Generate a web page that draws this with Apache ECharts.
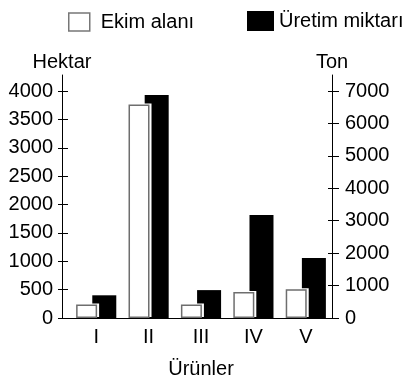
<!DOCTYPE html>
<html>
<head>
<meta charset="utf-8">
<style>
  html, body { margin: 0; padding: 0; background: #fff; }
  #chart { width: 409px; height: 385px; }
</style>
<script src="https://cdn.jsdelivr.net/npm/echarts@6/dist/echarts.min.js"></script>
</head>
<body>
<div id="chart"></div>
<script>
// Ürün grupları ve değerleri
const categories = ['I', 'II', 'III', 'IV', 'V'];
const ekimAlani = [240, 3760, 240, 460, 505];        // hektar
const uretimMiktari = [700, 6880, 860, 3180, 1850];  // ton
const hektarTicks = { min: 0, max: 4000, interval: 500 };
const tonTicks = { min: 0, max: 7000, interval: 1000 };

const FONT = 'Liberation Sans';
const FS = 20;
const txt = { fontFamily: FONT, fontSize: FS, color: '#000' };
const line = { color: '#000', width: 1 };
const plain = (v) => String(v);

const chart = echarts.init(document.getElementById('chart'), null, { renderer: 'canvas' });

chart.setOption({
  animation: false,
  backgroundColor: '#fff',
  textStyle: { fontFamily: FONT },
  legend: [
    {
      left: 68, top: 12, padding: 0,
      itemWidth: 21, itemHeight: 18,
      selectedMode: false,
      textStyle: Object.assign({}, txt, { padding: [0, 0, 0, 6] }),
      data: [{
        name: 'Ekim alanı', icon: 'rect',
        itemStyle: { color: '#fff', borderColor: '#777', borderWidth: 1.5, shadowColor: 'transparent' }
      }]
    },
    {
      left: 247, top: 11, padding: 0,
      itemWidth: 27, itemHeight: 20,
      selectedMode: false,
      textStyle: txt,
      data: [{ name: 'Üretim miktarı', icon: 'rect', itemStyle: { color: '#000' } }]
    }
  ],
  grid: [
    { left: 70, right: 77, top: 91, bottom: 67 },   // bars
    { left: 62, right: 77, top: 75, bottom: 67 }    // axis frame
  ],
  xAxis: [
    {
      type: 'category', gridIndex: 0, data: categories,
      axisLine: { show: false }, axisTick: { show: false },
      axisLabel: Object.assign({}, txt, { margin: 9 }),
      name: 'Ürünler', nameLocation: 'middle', nameGap: 41,
      nameTextStyle: txt
    },
    {
      type: 'value', gridIndex: 1, min: 0, max: 1,
      axisLine: { show: true, lineStyle: line },
      axisTick: { show: false }, axisLabel: { show: false }, splitLine: { show: false }
    }
  ],
  yAxis: [
    {
      type: 'value', gridIndex: 0, position: 'left', offset: 8,
      min: hektarTicks.min, max: hektarTicks.max, interval: hektarTicks.interval,
      axisLine: { show: false },
      axisTick: { show: true, length: 4, lineStyle: line },
      axisLabel: Object.assign({}, txt, { margin: 9, formatter: plain }),
      splitLine: { show: false },
      name: 'Hektar', nameLocation: 'end', nameGap: 29,
      nameTextStyle: Object.assign({}, txt, { align: 'center', verticalAlign: 'middle' })
    },
    {
      type: 'value', gridIndex: 0, position: 'right',
      min: tonTicks.min, max: tonTicks.max, interval: tonTicks.interval,
      axisLine: { show: false },
      axisTick: { show: true, length: 7, lineStyle: line },
      axisLabel: Object.assign({}, txt, { margin: 13, formatter: plain }),
      splitLine: { show: false },
      name: 'Ton', nameLocation: 'end', nameGap: 29,
      nameTextStyle: Object.assign({}, txt, { align: 'center', verticalAlign: 'middle' })
    },
    {
      // inner half of the left ticks
      type: 'value', gridIndex: 0, position: 'left', offset: 8,
      min: hektarTicks.min, max: hektarTicks.max, interval: hektarTicks.interval,
      axisLine: { show: false },
      axisTick: { show: true, inside: true, length: 6, lineStyle: line },
      axisLabel: { show: false }, splitLine: { show: false }
    },
    {
      // inner half of the right ticks
      type: 'value', gridIndex: 0, position: 'right',
      min: tonTicks.min, max: tonTicks.max, interval: tonTicks.interval,
      axisLine: { show: false },
      axisTick: { show: true, inside: true, length: 4, lineStyle: line },
      axisLabel: { show: false }, splitLine: { show: false }
    },
    {
      type: 'value', gridIndex: 1, position: 'left', min: 0, max: 1,
      axisLine: { show: true, lineStyle: line },
      axisTick: { show: false }, axisLabel: { show: false }, splitLine: { show: false }
    },
    {
      type: 'value', gridIndex: 1, position: 'right', min: 0, max: 1,
      axisLine: { show: true, lineStyle: line },
      axisTick: { show: false }, axisLabel: { show: false }, splitLine: { show: false }
    }
  ],
  series: [
    {
      name: 'Ekim alanı', type: 'bar', xAxisIndex: 0, yAxisIndex: 0,
      data: ekimAlani, barWidth: 21, barGap: '-23%', z: 4,
      itemStyle: {
        color: '#fff', borderColor: '#6e6e6e', borderWidth: 1.5,
        shadowColor: '#fff', shadowBlur: 0, shadowOffsetX: 2, shadowOffsetY: -1
      }
    },
    {
      name: 'Üretim miktarı', type: 'bar', xAxisIndex: 0, yAxisIndex: 1,
      data: uretimMiktari, barWidth: 24, barGap: '-23%', z: 2,
      itemStyle: { color: '#000' }
    }
  ]
});
</script>
</body>
</html>
